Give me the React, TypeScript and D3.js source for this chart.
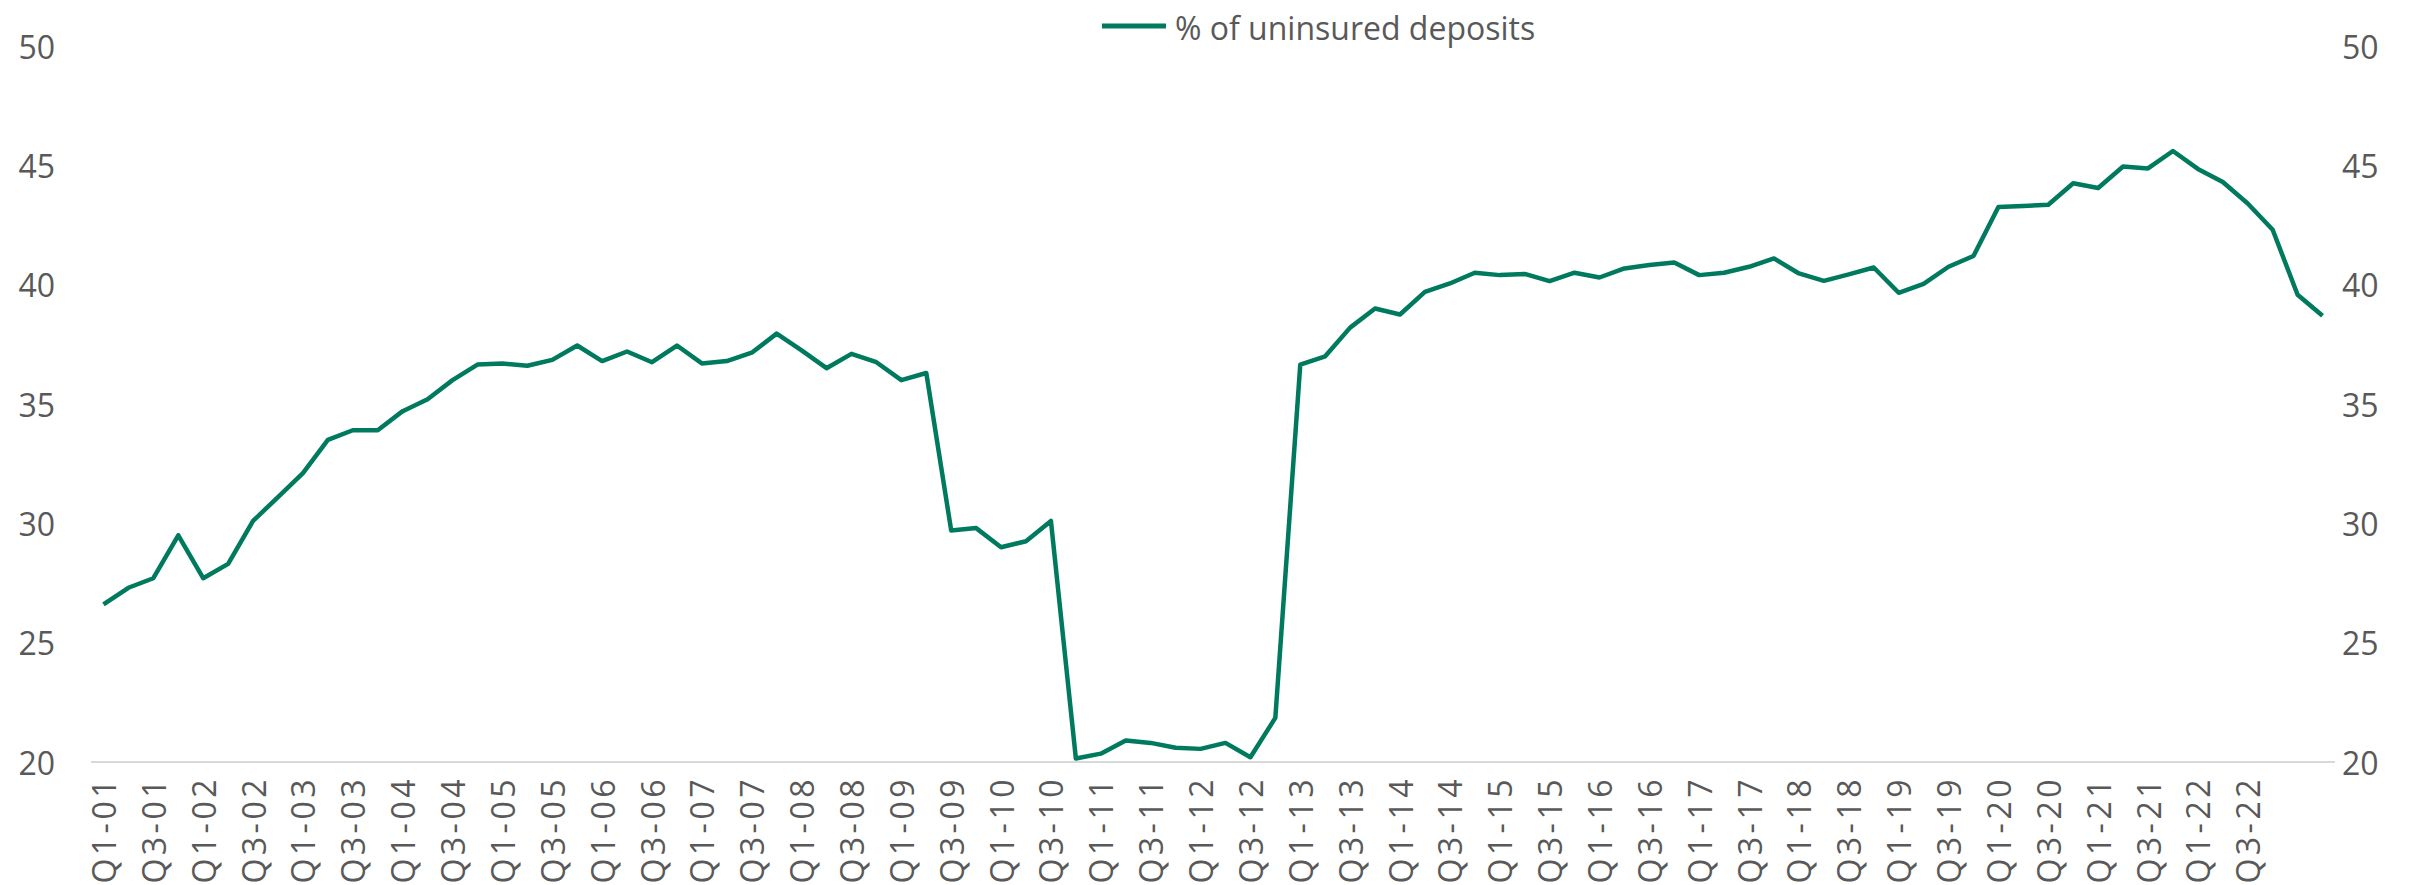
import * as d3 from 'd3';
import {useMemo} from 'react';

const WIDTH = 2420;
const HEIGHT = 885;

// quarters Q1-01 .. Q2-23
const quarters = [
  'Q1-01', 'Q2-01', 'Q3-01', 'Q4-01', 'Q1-02', 'Q2-02', 'Q3-02', 'Q4-02',
  'Q1-03', 'Q2-03', 'Q3-03', 'Q4-03', 'Q1-04', 'Q2-04', 'Q3-04', 'Q4-04',
  'Q1-05', 'Q2-05', 'Q3-05', 'Q4-05', 'Q1-06', 'Q2-06', 'Q3-06', 'Q4-06',
  'Q1-07', 'Q2-07', 'Q3-07', 'Q4-07', 'Q1-08', 'Q2-08', 'Q3-08', 'Q4-08',
  'Q1-09', 'Q2-09', 'Q3-09', 'Q4-09', 'Q1-10', 'Q2-10', 'Q3-10', 'Q4-10',
  'Q1-11', 'Q2-11', 'Q3-11', 'Q4-11', 'Q1-12', 'Q2-12', 'Q3-12', 'Q4-12',
  'Q1-13', 'Q2-13', 'Q3-13', 'Q4-13', 'Q1-14', 'Q2-14', 'Q3-14', 'Q4-14',
  'Q1-15', 'Q2-15', 'Q3-15', 'Q4-15', 'Q1-16', 'Q2-16', 'Q3-16', 'Q4-16',
  'Q1-17', 'Q2-17', 'Q3-17', 'Q4-17', 'Q1-18', 'Q2-18', 'Q3-18', 'Q4-18',
  'Q1-19', 'Q2-19', 'Q3-19', 'Q4-19', 'Q1-20', 'Q2-20', 'Q3-20', 'Q4-20',
  'Q1-21', 'Q2-21', 'Q3-21', 'Q4-21', 'Q1-22', 'Q2-22', 'Q3-22', 'Q4-22',
  'Q1-23', 'Q2-23',
];

const uninsuredShare = [
  26.6, 27.3, 27.7, 29.5, 27.7, 28.3, 30.1, 31.1,
  32.1, 33.5, 33.9, 33.9, 34.7, 35.2, 36.0, 36.65,
  36.7, 36.6, 36.85, 37.45, 36.8, 37.2, 36.75, 37.45,
  36.7, 36.8, 37.15, 37.95, 37.25, 36.5, 37.1, 36.75,
  36.0, 36.3, 29.7, 29.8, 29.0, 29.25, 30.1, 20.15,
  20.35, 20.9, 20.8, 20.6, 20.55, 20.8, 20.2, 21.85,
  36.65, 37.0, 38.2, 39.0, 38.75, 39.7, 40.05, 40.5,
  40.4, 40.45, 40.15, 40.5, 40.3, 40.68, 40.82, 40.93,
  40.4, 40.5, 40.75, 41.1, 40.47, 40.16, 40.43, 40.72,
  39.66, 40.03, 40.75, 41.2, 43.25, 43.3, 43.35, 44.25,
  44.05, 44.95, 44.87, 45.6, 44.85, 44.3, 43.4, 42.3,
  39.58, 38.7,
];

const tickLabels = quarters.filter((_, i) => i % 2 === 0 && i <= 86);
const yTicks = [20, 25, 30, 35, 40, 45, 50];
const seriesName = '% of uninsured deposits';

const LINE_COLOR = '#007a5e';
const TEXT_COLOR = '#595959';
const FONT = '"Open Sans", "Noto Sans", sans-serif';

function App() {
  const x = useMemo(
    () => d3.scalePoint<string>().domain(quarters).range([91, 2335]).padding(0.5),
    [],
  );
  const y = useMemo(() => d3.scaleLinear().domain([20, 50]).range([762, 46]), []);

  const path = useMemo(() => {
    const line = d3
      .line<number>()
      .x((_, i) => x(quarters[i])!)
      .y((d) => y(d));
    return line(uninsuredShare);
  }, [x, y]);

  return (
    <svg
      width={WIDTH}
      height={HEIGHT}
      style={{position: 'absolute', left: 0, top: 0, background: '#fff'}}
      fontFamily={FONT}
    >
      {/* baseline */}
      <line x1={91} x2={2335} y1={y(20)} y2={y(20)} stroke="#d9d9d9" strokeWidth={2} />

      {yTicks.map((t) => (
        <g key={t} fill={TEXT_COLOR} fontSize={32}>
          <text x={55} y={y(t)} textAnchor="end" dominantBaseline="central">{t}</text>
          <text x={2342} y={y(t)} textAnchor="start" dominantBaseline="central">{t}</text>
        </g>
      ))}

      {tickLabels.map((q) => (
        <text
          key={q}
          transform={`translate(${x(q)},776) rotate(-90)`}
          textAnchor="end"
          dominantBaseline="central"
          fontSize={32}
          letterSpacing={3.5}
          fill={TEXT_COLOR}
        >
          {q}
        </text>
      ))}

      <path d={path!} fill="none" stroke={LINE_COLOR} strokeWidth={4.5} strokeLinejoin="round" />

      {/* legend */}
      <line x1={1102} x2={1166} y1={26} y2={26} stroke={LINE_COLOR} strokeWidth={5} />
      <text x={1175} y={27} dominantBaseline="central" fontSize={32} fill={TEXT_COLOR}>
        {seriesName}
      </text>
    </svg>
  );
}

export default App;
